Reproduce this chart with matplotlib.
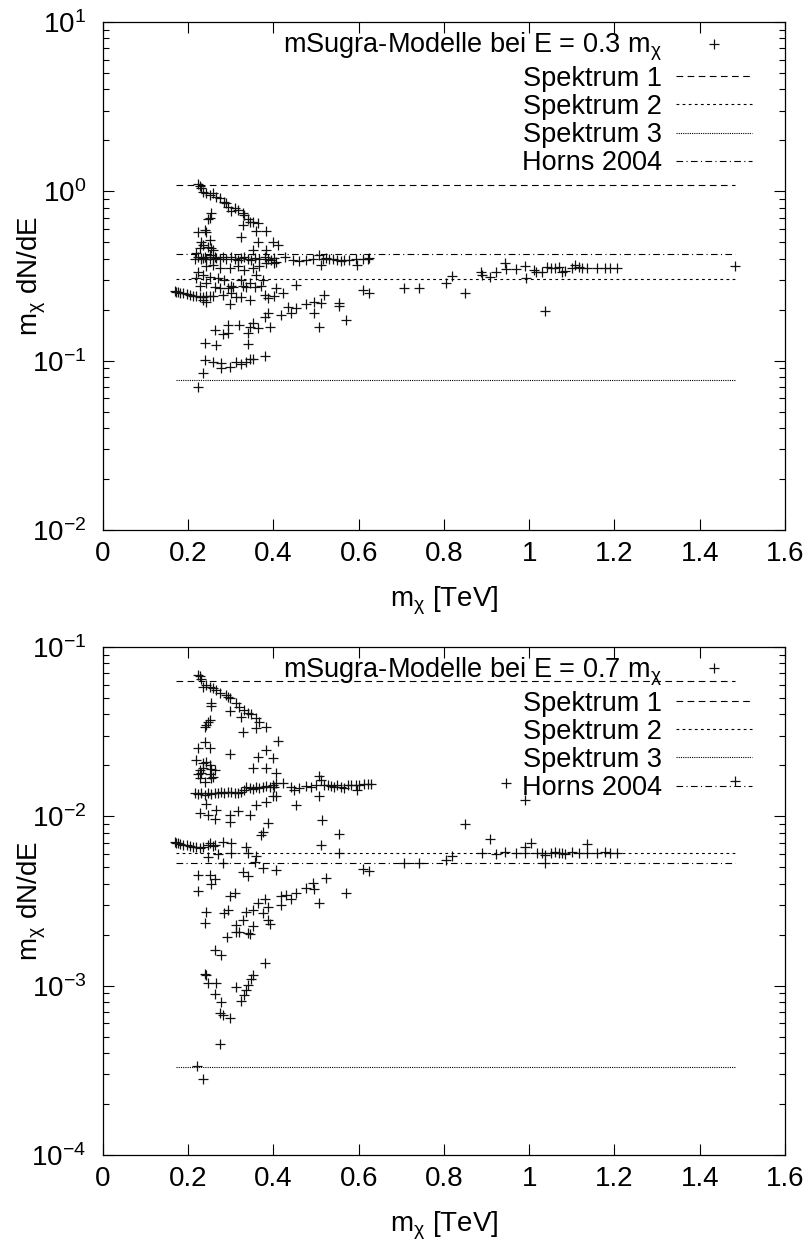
import numpy as np
import matplotlib
matplotlib.use('Agg')
import matplotlib.pyplot as plt
from matplotlib.ticker import FixedLocator, FormatStrFormatter, LogLocator, NullFormatter

plt.rcParams['font.family'] = ['Liberation Sans', 'DejaVu Sans']
plt.rcParams['mathtext.fontset'] = 'custom'
plt.rcParams['mathtext.rm'] = 'Liberation Sans'
plt.rcParams['mathtext.it'] = 'Liberation Sans'
plt.rcParams['axes.unicode_minus'] = False

# ---------------- data: E = 0.3 m_chi ----------------
mass_top = [
    # upper branch
    0.223, 0.227, 0.231, 0.235, 0.2425, 0.25, 0.258, 0.266, 0.274, 0.285, 0.289, 0.293, 0.301, 0.309,
    0.316, 0.328, 0.332, 0.34, 0.344, 0.352, 0.363, 0.36, 0.383, 0.328, 0.324, 0.363, 0.254, 0.25,
    0.246, 0.352, 0.383, 0.398, 0.41,
    # vertical branch
    0.223, 0.239, 0.2425, 0.25, 0.231, 0.235, 0.227, 0.246, 0.254, 0.258, 0.219, 0.239, 0.25, 0.262,
    # band near Horns level
    0.215, 0.223, 0.231, 0.235, 0.2425, 0.25, 0.258, 0.266, 0.274, 0.281, 0.289, 0.301, 0.309, 0.316,
    0.324, 0.332, 0.34, 0.348, 0.356, 0.367, 0.379, 0.387, 0.395, 0.402, 0.406, 0.426, 0.445, 0.461,
    0.476, 0.492, 0.508, 0.516, 0.523, 0.531, 0.539, 0.55, 0.558, 0.566, 0.578, 0.593, 0.597, 0.609,
    0.621, 0.625, 0.512,
    # middle scatter
    0.223, 0.2425, 0.258, 0.274, 0.297, 0.316, 0.332, 0.352, 0.367, 0.383, 0.402, 0.219, 0.235, 0.25,
    0.27, 0.285, 0.301, 0.324, 0.328, 0.344, 0.356, 0.371, 0.375, 0.227, 0.2425, 0.262, 0.274, 0.293,
    0.305, 0.336, 0.36, 0.406, 0.422, 0.453, 0.281, 0.301, 0.313, 0.324, 0.344, 0.379, 0.387, 0.402,
    0.297, 0.235,
    # lower left band
    0.168, 0.172, 0.176, 0.18, 0.188, 0.196, 0.2035, 0.211, 0.219, 0.227, 0.235, 0.2425, 0.25, 0.258,
    0.2425,
    # rising middle branch
    0.239, 0.266, 0.262, 0.281, 0.293, 0.293, 0.32, 0.34, 0.34, 0.344, 0.352, 0.363, 0.391, 0.379,
    0.387, 0.418, 0.434, 0.441, 0.453, 0.476, 0.496, 0.519, 0.512, 0.496, 0.508, 0.554, 0.554, 0.57,
    0.609, 0.625,
    # lower rising branch
    0.235, 0.222, 0.239, 0.258, 0.278, 0.278, 0.297, 0.313, 0.324, 0.336, 0.344, 0.352, 0.379,
    # heavy models
    0.706, 0.742, 0.804, 0.82, 0.849, 0.886, 0.89, 0.909, 0.922, 0.943, 0.946, 0.968, 0.991, 0.993,
    1.011, 1.016, 1.03, 1.036, 1.042, 1.05, 1.061, 1.069, 1.077, 1.085, 1.1, 1.108, 1.116, 1.124,
    1.135, 1.159, 1.178, 1.19, 1.206, 1.482,
]
flux_top = [
    1.10, 1.075, 1.04, 0.995, 0.973, 0.95, 0.973, 0.92, 0.909, 0.869, 0.85, 0.81, 0.77, 0.793,
    0.776, 0.74, 0.724, 0.69, 0.661, 0.661, 0.647, 0.585, 0.585, 0.63, 0.535, 0.504, 0.74, 0.70,
    0.69, 0.45, 0.45, 0.504, 0.482,
    0.577, 0.59, 0.577, 0.515, 0.504, 0.482, 0.46, 0.47, 0.46, 0.45, 0.43, 0.41, 0.42, 0.41,
    0.40, 0.41, 0.40, 0.405, 0.398, 0.40, 0.398, 0.405, 0.398, 0.41, 0.398, 0.41, 0.40, 0.393,
    0.405, 0.41, 0.40, 0.393, 0.405, 0.398, 0.41, 0.40, 0.393, 0.405, 0.384, 0.41, 0.393, 0.39,
    0.393, 0.398, 0.42, 0.40, 0.405, 0.398, 0.398, 0.393, 0.39, 0.393, 0.393, 0.398, 0.367, 0.398,
    0.398, 0.405, 0.367,
    0.335, 0.36, 0.367, 0.351, 0.351, 0.36, 0.343, 0.351, 0.36, 0.376, 0.376, 0.306, 0.32, 0.313,
    0.306, 0.30, 0.277, 0.30, 0.277, 0.286, 0.272, 0.277, 0.30, 0.277, 0.286, 0.274, 0.267, 0.267,
    0.272, 0.272, 0.32, 0.267, 0.25, 0.28, 0.244, 0.25, 0.238, 0.238, 0.228, 0.244, 0.233, 0.24,
    0.216, 0.228,
    0.258, 0.255, 0.253, 0.252, 0.25, 0.247, 0.244, 0.242, 0.241, 0.238, 0.238, 0.241, 0.242, 0.241,
    0.222,
    0.127, 0.124, 0.152, 0.144, 0.145, 0.162, 0.162, 0.145, 0.126, 0.159, 0.166, 0.155, 0.159, 0.182,
    0.19, 0.186, 0.208, 0.19, 0.204, 0.216, 0.222, 0.244, 0.218, 0.19, 0.159, 0.22, 0.209, 0.174,
    0.26, 0.25,
    0.084, 0.070, 0.101, 0.0987, 0.097, 0.090, 0.092, 0.0987, 0.0955, 0.0987, 0.102, 0.103, 0.106,
    0.27, 0.27, 0.286, 0.317, 0.25, 0.335, 0.32, 0.31, 0.333, 0.38, 0.35, 0.35, 0.36, 0.306,
    0.345, 0.333, 0.333, 0.196, 0.359, 0.352, 0.352, 0.359, 0.335, 0.34, 0.352, 0.366, 0.359, 0.352,
    0.352, 0.352, 0.352, 0.352, 0.355, 0.362,
]

# ---------------- data: E = 0.7 m_chi ----------------
mass_bot = [
    # upper branch
    0.223, 0.227, 0.231, 0.235, 0.2425, 0.25, 0.258, 0.266, 0.274, 0.289, 0.293, 0.297, 0.313, 0.32,
    0.332, 0.34, 0.348, 0.36, 0.367, 0.383, 0.36, 0.328, 0.324, 0.297, 0.254, 0.254, 0.25, 0.246,
    0.2425, 0.239,
    # middle
    0.239, 0.223, 0.25, 0.297, 0.41, 0.383, 0.363, 0.398, 0.352, 0.383, 0.406,
    # cluster
    0.219, 0.235, 0.2425, 0.25, 0.227, 0.235, 0.254, 0.262, 0.223, 0.231, 0.25, 0.254, 0.258, 0.227,
    0.239,
    # band
    0.215, 0.223, 0.231, 0.239, 0.246, 0.254, 0.262, 0.27, 0.278, 0.285, 0.293, 0.301, 0.309, 0.316,
    0.324, 0.332, 0.336, 0.344, 0.352, 0.36, 0.367, 0.375, 0.383, 0.391, 0.398, 0.402, 0.406, 0.422,
    0.441, 0.449, 0.461, 0.476, 0.488, 0.5, 0.508, 0.512, 0.519, 0.527, 0.535, 0.543, 0.55, 0.558,
    0.566, 0.574, 0.582, 0.593, 0.597, 0.601, 0.613, 0.621, 0.629,
    # below band
    0.2425, 0.227, 0.246, 0.266, 0.262, 0.297, 0.297, 0.316, 0.344, 0.36, 0.383, 0.398, 0.406, 0.453,
    0.508, 0.515, 0.554, 0.387, 0.375, 0.371,
    # lower left cluster
    0.168, 0.172, 0.176, 0.18, 0.188, 0.196, 0.2035, 0.211, 0.219, 0.227, 0.235, 0.246, 0.25, 0.258,
    0.262, 0.281, 0.301, 0.27, 0.246, 0.301, 0.336, 0.34, 0.36, 0.356, 0.512, 0.554, 0.375, 0.406,
    0.328, 0.34, 0.281, 0.223, 0.25, 0.262, 0.254, 0.223, 0.297, 0.309, 0.609, 0.625, 0.706, 0.742,
    0.804, 0.819,
    # rising branch
    0.2425, 0.239, 0.285, 0.293, 0.313, 0.32, 0.328, 0.336, 0.34, 0.352, 0.352, 0.363, 0.379, 0.387,
    0.375, 0.387, 0.391, 0.418, 0.418, 0.43, 0.441, 0.453, 0.476, 0.492, 0.496, 0.523, 0.508, 0.57,
    0.344, 0.313,
    # lowest branch
    0.262, 0.278, 0.379, 0.291, 0.2405, 0.2425, 0.246, 0.266, 0.262, 0.278, 0.274, 0.281, 0.299, 0.311,
    0.323, 0.332, 0.335, 0.34, 0.348, 0.352, 0.274, 0.221, 0.235,
    # heavy models
    0.849, 0.909, 0.991, 1.005, 1.135, 0.991, 0.89, 0.921, 0.944, 0.968, 0.991, 1.018, 1.03, 1.038,
    1.036, 1.05, 1.061, 1.069, 1.077, 1.085, 1.1, 1.116, 1.135, 1.159, 1.178, 1.19, 1.206, 0.945,
    1.482,
]
flux_bot = [
    0.0684, 0.067, 0.0645, 0.0583, 0.0596, 0.0578, 0.057, 0.0557, 0.0538, 0.0522, 0.0509, 0.0498,
    0.0469, 0.0445, 0.0425, 0.041, 0.0402, 0.0379, 0.0362, 0.0338, 0.0331, 0.0316, 0.0388, 0.0419,
    0.0465, 0.045, 0.037, 0.0362, 0.0346, 0.0338,
    0.0276, 0.0252, 0.0252, 0.0233, 0.028, 0.0247, 0.0225, 0.022, 0.0192, 0.0192, 0.018,
    0.0215, 0.0206, 0.021, 0.0202, 0.0188, 0.0192, 0.019, 0.0188, 0.0177, 0.018, 0.0177, 0.0168,
    0.0171, 0.0168, 0.016,
    0.0137, 0.0135, 0.0138, 0.0134, 0.0137, 0.0135, 0.0138, 0.0137, 0.014, 0.0138, 0.014, 0.014,
    0.0137, 0.0138, 0.014, 0.0143, 0.015, 0.0147, 0.0145, 0.0149, 0.0147, 0.015, 0.0151, 0.0149,
    0.0153, 0.015, 0.0157, 0.0157, 0.015, 0.0143, 0.0147, 0.0151, 0.015, 0.0153, 0.0173, 0.0164,
    0.0153, 0.0153, 0.0152, 0.015, 0.0153, 0.0149, 0.0147, 0.0153, 0.0153, 0.0153, 0.0143, 0.0153,
    0.0155, 0.0155, 0.0155,
    0.0119, 0.0104, 0.0102, 0.0109, 0.0097, 0.0102, 0.0093, 0.0107, 0.0102, 0.0117, 0.0122, 0.0131,
    0.0131, 0.0117, 0.0131, 0.0095, 0.0079, 0.0091, 0.0081, 0.0078,
    0.00708, 0.00692, 0.0070, 0.00685, 0.00676, 0.00676, 0.00666, 0.0066, 0.0066, 0.00647, 0.00655,
    0.00676, 0.00692, 0.00666, 0.00676, 0.00708, 0.0070, 0.00598, 0.00578, 0.0061, 0.0066, 0.0061,
    0.00583, 0.0054, 0.00676, 0.0061, 0.00493, 0.00482, 0.00471, 0.00444, 0.00527, 0.0045, 0.0045,
    0.00424, 0.00397, 0.00364, 0.00338, 0.00354, 0.00486, 0.00475, 0.00527, 0.0053, 0.00553, 0.00583,
    0.00273, 0.00236, 0.0027, 0.0028, 0.00228, 0.00208, 0.00244, 0.00273, 0.00204, 0.0028, 0.00225,
    0.00306, 0.00323, 0.00292, 0.00268, 0.00244, 0.00232, 0.00338, 0.00299, 0.00343, 0.00323,
    0.00351, 0.00379, 0.00405, 0.0037, 0.0043, 0.00306, 0.00354, 0.00202, 0.00208,
    0.00162, 0.00152, 0.00137, 0.00195, 0.00117, 0.00116, 0.00103, 0.00103, 0.00089, 0.0008,
    0.000685, 0.00067, 0.00064, 0.00098, 0.00081, 0.00088, 0.00094, 0.00101, 0.0011, 0.00115,
    0.00045, 0.000335, 0.00028,
    0.00897, 0.0073, 0.0066, 0.00698, 0.0069, 0.0125, 0.00604, 0.0060, 0.00618, 0.0061, 0.0061,
    0.00604, 0.00604, 0.0059, 0.00527, 0.0061, 0.00618, 0.0061, 0.00604, 0.0060, 0.00618, 0.0061,
    0.0061, 0.0061, 0.00618, 0.0061, 0.0061, 0.0158, 0.0162,
]

# reference spectra (constant levels), mass range of the scan
line_range = [0.172, 1.483]
spectra_top = {'Spektrum 1': 1.085, 'Spektrum 2': 0.303, 'Spektrum 3': 0.0767, 'Horns 2004': 0.425}
spectra_bot = {'Spektrum 1': 0.063, 'Spektrum 2': 0.00604, 'Spektrum 3': 0.000332, 'Horns 2004': 0.00527}
energy_frac = ['0.3', '0.7']
ylims = [(1e-2, 1e1), (1e-4, 1e-1)]

line_styles = {
    'Spektrum 1': (0, (6, 4)),
    'Spektrum 2': (0, (2.5, 3)),
    'Spektrum 3': (0, (1, 1)),
    'Horns 2004': (0, (6, 3, 1, 3)),
}

fs = 20
fs_leg = 19.5
fig = plt.figure(figsize=(8.12, 12.45), dpi=100)
ax_top = fig.add_axes([0.1268, 0.5743, 0.8399, 0.408])
ax_bot = fig.add_axes([0.1268, 0.0723, 0.8399, 0.408])

panels = [
    (ax_top, mass_top, flux_top, spectra_top),
    (ax_bot, mass_bot, flux_bot, spectra_bot),
]

for i, (ax, mx, fl, spectra) in enumerate(panels):
    ax.plot(mx, fl, linestyle='none', marker='+', color='#111111', markersize=6.5, markeredgewidth=0.9,
            label=r'mSugra-Modelle bei E = %s m$_\chi$' % energy_frac[i])
    for name, level in spectra.items():
        ax.plot(line_range, [level, level], color='black', linewidth=0.8, linestyle=line_styles[name],
                label=name)
    ax.set_yscale('log')
    ax.set_xlim(0, 1.6)
    ax.set_ylim(*ylims[i])
    ax.xaxis.set_major_locator(FixedLocator(np.arange(0, 1.61, 0.2)))
    ax.xaxis.set_major_formatter(FormatStrFormatter('%g'))
    ax.yaxis.set_major_locator(LogLocator(base=10, numticks=10))
    ax.yaxis.set_minor_locator(LogLocator(base=10, subs=np.arange(2, 10), numticks=10))
    ax.yaxis.set_minor_formatter(NullFormatter())
    ax.tick_params(which='both', direction='in', top=True, right=True, width=0.8, labelsize=fs)
    ax.tick_params(which='major', length=8)
    ax.tick_params(axis='x', which='major', pad=8)
    ax.tick_params(axis='y', which='major', pad=12)
    ax.tick_params(which='minor', length=4)
    for sp in ax.spines.values():
        sp.set_linewidth(0.9)
    ax.set_xlabel(r'm$_\chi$ [TeV]', fontsize=fs, labelpad=13)
    ax.set_ylabel(r'm$_\chi$ dN/dE', fontsize=fs)
    ax.yaxis.set_label_coords(-0.08, 0.5)
    ax.legend(loc='upper right', bbox_to_anchor=(0.9516, 0.982), frameon=False, markerfirst=False,
              fontsize=fs_leg, handlelength=2.8, handletextpad=0.52, labelspacing=0.08,
              borderaxespad=0, borderpad=0, numpoints=1)

fig.savefig('out.png', dpi=100)
